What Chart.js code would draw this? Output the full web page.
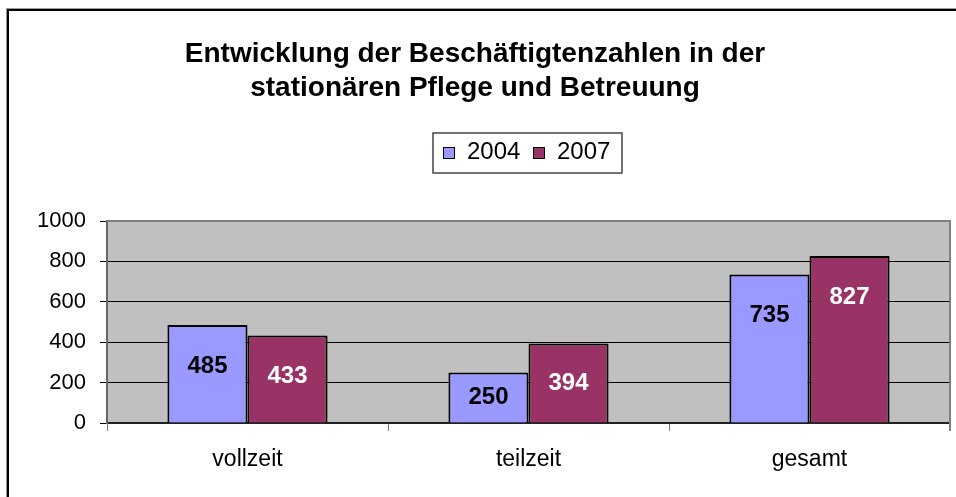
<!DOCTYPE html>
<html>
<head>
<meta charset="utf-8">
<script src="https://cdn.jsdelivr.net/npm/chart.js@4"></script>
<style>
    html, body { margin: 0; padding: 0; background: #fff; overflow: hidden; }
    #frame { position: absolute; left: 7px; top: 9px; width: 1000px; height: 600px; border: 2px solid #000; box-shadow: -1px -1px 0 #999; }
    #myChart { position: absolute; left: 0; top: 0; }
</style>
</head>
<body>
<div id="frame"></div>
<canvas id="myChart" width="980" height="497"></canvas>
<script>
const categories = ["vollzeit", "teilzeit", "gesamt"]
const years = ["2004", "2007"]
const values2004 = [485, 250, 735]
const values2007 = [433, 394, 827]
const yTicks = [0, 200, 400, 600, 800, 1000]
const titleLines = ["Entwicklung der Beschäftigtenzahlen in der", "stationären Pflege und Betreuung"]

const FONT = "'Liberation Sans', Arial, sans-serif"

function main() {
    buildChart("myChart")
}

// plugins
const plotBackground = {
    id: "plotBackground",
    beforeDraw(chart) {
        const { ctx, chartArea: a } = chart
        ctx.save()
        ctx.fillStyle = "#C0C0C0"
        ctx.fillRect(a.left, a.top, a.right - a.left, a.bottom - a.top)
        ctx.restore()
    },
    afterDraw(chart) {
        const { ctx, chartArea: a } = chart
        ctx.save()
        ctx.strokeStyle = "#808080"
        ctx.lineWidth = 2
        ctx.beginPath()
        ctx.moveTo(a.left, a.top)
        ctx.lineTo(a.right, a.top)
        ctx.lineTo(a.right, a.bottom + 8)
        ctx.stroke()
        ctx.restore()
    }
}

const barLabels = {
    id: "barLabels",
    afterDatasetsDraw(chart) {
        const ctx = chart.ctx
        ctx.save()
        ctx.font = "bold 24px " + FONT
        ctx.textAlign = "center"
        ctx.textBaseline = "middle"
        chart.data.datasets.forEach((ds, di) => {
            const meta = chart.getDatasetMeta(di)
            meta.data.forEach((bar, i) => {
                const y = Math.min(bar.y + 41, (bar.y + bar.base) / 2)
                ctx.fillStyle = ds.labelColor
                ctx.fillText(String(ds.data[i]), bar.x, y)
            })
        })
        ctx.restore()
    }
}

const boxLegend = {
    id: "boxLegend",
    afterDraw(chart) {
        const ctx = chart.ctx
        const x0 = 433, y0 = 133
        ctx.save()
        ctx.strokeStyle = "#444"
        ctx.lineWidth = 1.5
        ctx.strokeRect(x0, y0, 189, 40)
        ctx.font = "24px " + FONT
        ctx.textBaseline = "middle"
        ctx.textAlign = "left"
        let x = x0 + 10
        chart.data.datasets.forEach(ds => {
            ctx.fillStyle = ds.backgroundColor
            ctx.fillRect(x, y0 + 14, 11, 11)
            ctx.strokeStyle = "#000"
            ctx.lineWidth = 1
            ctx.strokeRect(x + 0.5, y0 + 14.5, 11, 11)
            ctx.fillStyle = "#000"
            ctx.fillText(ds.label, x + 24, y0 + 19)
            x += 90
        })
        ctx.restore()
    }
}

function buildChart(canvasId) {
    const ctx = document.getElementById(canvasId)

    new Chart(ctx, {
        type: "bar",
        data: {
            labels: categories,
            datasets: [
                { label: years[0], data: values2004, backgroundColor: "#9999FF", labelColor: "#000",
                  borderColor: "#000", borderWidth: 2 },
                { label: years[1], data: values2007, backgroundColor: "#993366", labelColor: "#fff",
                  borderColor: "#000", borderWidth: 2 }
            ]
        },
        options: {
            responsive: false,
            animation: false,
            layout: { padding: { left: 0, right: 30, top: 0, bottom: 0 } },
            datasets: {
                bar: { categoryPercentage: 0.57, barPercentage: 1 }
            },
            plugins: {
                legend: { display: false },
                tooltip: { enabled: false },
                title: {
                    display: true,
                    text: titleLines,
                    color: "#000",
                    font: { family: FONT, size: 28, weight: "bold", lineHeight: 34 / 28 },
                    padding: { top: 37, bottom: 116 }
                }
            },
            scales: {
                x: {
                    afterFit(scale) { scale.height = 74 },
                    grid: { offset: true, drawOnChartArea: false, tickLength: 8, tickColor: "#808080" },
                    border: { color: "#222", width: 2 },
                    ticks: { color: "#000", font: { family: FONT, size: 23 }, padding: 15 }
                },
                y: {
                    min: 0,
                    max: 1000,
                    afterFit(scale) { scale.width = 107 },
                    afterBuildTicks(scale) { scale.ticks = yTicks.map(v => ({ value: v })) },
                    grid: {
                        color: c => c.tick && c.tick.value === 1000 ? "rgba(0,0,0,0)" : "#000",
                        tickLength: 7,
                        tickColor: "#000"
                    },
                    border: { color: "#666", width: 2 },
                    ticks: {
                        color: "#000",
                        font: { family: FONT, size: 22 },
                        padding: 14,
                        callback: v => String(v)
                    }
                }
            }
        },
        plugins: [plotBackground, barLabels, boxLegend]
    })
}

// listeners
document.addEventListener("DOMContentLoaded", main)
</script>
</body>
</html>
